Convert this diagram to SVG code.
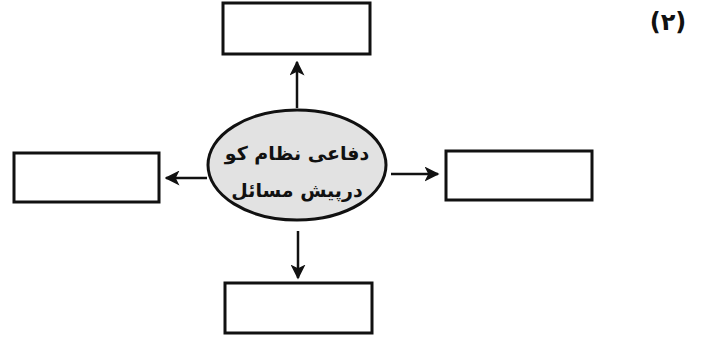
<svg xmlns="http://www.w3.org/2000/svg" width="720" height="342" viewBox="0 0 720 342">
<style>
.box{fill:#fff;stroke:#111;stroke-width:3}
.conn{stroke:#111;stroke-width:2.5;fill:none}
.ur{font-family:"DejaVu Sans","Noto Sans",sans-serif;font-weight:bold;fill:#111;text-anchor:middle}
</style>
<defs>
<marker id="ah" viewBox="0 0 10 10" refX="9" refY="5" markerWidth="6" markerHeight="6" orient="auto" markerUnits="strokeWidth">
<path d="M0,0 L10,5 L0,10 L2.5,5 Z" fill="#111"/>
</marker>
</defs>
<rect width="720" height="342" fill="#fff"/>
<text x="668" y="30" class="ur" font-size="24">(۲)</text>
<g id="connectors">
<line class="conn" x1="297" y1="108" x2="297" y2="62" marker-end="url(#ah)"/>
<line class="conn" x1="207" y1="178" x2="166" y2="178" marker-end="url(#ah)"/>
<line class="conn" x1="391" y1="174" x2="438" y2="174" marker-end="url(#ah)"/>
<line class="conn" x1="298" y1="231" x2="298" y2="278" marker-end="url(#ah)"/>
</g>
<g id="center">
<ellipse cx="297" cy="165" rx="89" ry="55" fill="#e2e2e2" stroke="#111" stroke-width="3"/>
<text x="297" y="160" class="ur" font-size="19">دفاعی نظام کو</text>
<text x="297" y="197" class="ur" font-size="19">درپیش مسائل</text>
</g>
<g id="top"><rect class="box" x="223" y="3" width="147" height="51"/></g>
<g id="left"><rect class="box" x="14" y="153" width="145" height="49"/></g>
<g id="right"><rect class="box" x="446" y="151" width="146" height="49"/></g>
<g id="bottom"><rect class="box" x="225" y="283" width="147" height="50"/></g>
</svg>
